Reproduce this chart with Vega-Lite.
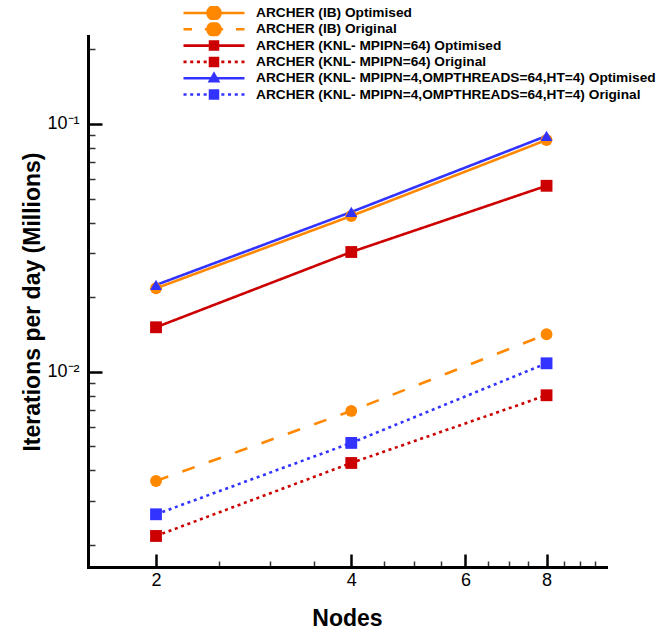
{
  "$schema": "https://vega.github.io/schema/vega-lite/v6.json",
  "width": 518,
  "height": 531,
  "autosize": "none",
  "padding": {"left": 88, "top": 36, "right": 66, "bottom": 66},
  "background": "white",
  "config": {"view": {"stroke": null}, "font": "Liberation Sans"},
  "data": {
    "values": [
      {"series": "ARCHER (IB) Optimised", "nodes": 2, "value": 0.02171},
      {"series": "ARCHER (IB) Optimised", "nodes": 4, "value": 0.04252},
      {"series": "ARCHER (IB) Optimised", "nodes": 8, "value": 0.0862},
      {"series": "ARCHER (IB) Original", "nodes": 2, "value": 0.00362},
      {"series": "ARCHER (IB) Original", "nodes": 4, "value": 0.006941},
      {"series": "ARCHER (IB) Original", "nodes": 8, "value": 0.01416},
      {"series": "ARCHER (KNL- MPIPN=64) Optimised", "nodes": 2, "value": 0.01511},
      {"series": "ARCHER (KNL- MPIPN=64) Optimised", "nodes": 4, "value": 0.03042},
      {"series": "ARCHER (KNL- MPIPN=64) Optimised", "nodes": 8, "value": 0.0563},
      {"series": "ARCHER (KNL- MPIPN=64) Original", "nodes": 2, "value": 0.002171},
      {"series": "ARCHER (KNL- MPIPN=64) Original", "nodes": 4, "value": 0.004279},
      {"series": "ARCHER (KNL- MPIPN=64) Original", "nodes": 8, "value": 0.008031},
      {"series": "ARCHER (KNL- MPIPN=4,OMPTHREADS=64,HT=4) Optimised", "nodes": 2, "value": 0.02239},
      {"series": "ARCHER (KNL- MPIPN=4,OMPTHREADS=64,HT=4) Optimised", "nodes": 4, "value": 0.04413},
      {"series": "ARCHER (KNL- MPIPN=4,OMPTHREADS=64,HT=4) Optimised", "nodes": 8, "value": 0.0895},
      {"series": "ARCHER (KNL- MPIPN=4,OMPTHREADS=64,HT=4) Original", "nodes": 2, "value": 0.002656},
      {"series": "ARCHER (KNL- MPIPN=4,OMPTHREADS=64,HT=4) Original", "nodes": 4, "value": 0.005156},
      {"series": "ARCHER (KNL- MPIPN=4,OMPTHREADS=64,HT=4) Original", "nodes": 8, "value": 0.01081}
    ]
  },
  "layer": [
    {
      "mark": {"type": "line", "strokeWidth": 2.6},
      "encoding": {
        "x": {
          "field": "nodes", "type": "quantitative",
          "scale": {"type": "log", "domain": [1.571, 9.88], "nice": false},
          "axis": {
            "orient": "bottom", "values": [2, 4, 6, 8], "format": "d",
            "offset": -13, "tickSize": 13, "tickWidth": 2.5, "tickColor": "black",
            "domain": false, "grid": false,
            "labelFont": "Liberation Sans", "labelFontSize": 18, "labelColor": "black", "labelPadding": 4,
            "title": "Nodes", "titleFont": "Liberation Sans", "titleFontSize": 23, "titleFontWeight": "bold", "titleColor": "black", "titlePadding": 18
          }
        },
        "y": {
          "field": "value", "type": "quantitative",
          "scale": {"type": "log", "domain": [0.001627, 0.2266], "nice": false},
          "axis": {
            "orient": "left", "values": [0.01, 0.1],
            "labelExpr": "datum.value > 0.05 ? '10⁻¹' : '10⁻²'",
            "offset": -14, "tickSize": 14, "tickWidth": 2.5, "tickColor": "black",
            "domain": false, "grid": false,
            "labelFont": "Liberation Sans", "labelFontSize": 18, "labelColor": "black", "labelPadding": 9,
            "title": "Iterations per day (Millions)", "titleFont": "Liberation Sans", "titleFontSize": 23, "titleFontWeight": "bold", "titleColor": "black", "titlePadding": 2
          }
        },
        "color": {
          "field": "series", "type": "nominal",
          "scale": {
            "domain": ["ARCHER (IB) Optimised", "ARCHER (IB) Original", "ARCHER (KNL- MPIPN=64) Optimised", "ARCHER (KNL- MPIPN=64) Original", "ARCHER (KNL- MPIPN=4,OMPTHREADS=64,HT=4) Optimised", "ARCHER (KNL- MPIPN=4,OMPTHREADS=64,HT=4) Original"],
            "range": ["#ff8800", "#ff8800", "#cc0000", "#cc0000", "#3333ff", "#3333ff"]
          },
          "legend": {
            "orient": "none", "legendX": 94, "legendY": -30, "title": null,
            "padding": 0, "symbolSize": 3721, "symbolStrokeWidth": 2.6,
            "labelFont": "Liberation Sans", "labelFontSize": 13.7, "labelFontWeight": "bold", "labelColor": "black",
            "labelOffset": 10, "labelLimit": 600, "clipHeight": 14, "rowPadding": 2.3,
            "encode": {
              "symbols": {
                "update": {
                  "shape": {"signal": "(datum.value == 'ARCHER (IB) Original' ? 'M-1,0H-0.72M-0.3,0H0.3M0.72,0H1' : indexof(datum.value, 'Original') >= 0 ? 'M-1,0H-0.9M-0.78,0H-0.68M-0.56,0H-0.46M-0.34,0H-0.24M0.24,0H0.34M0.46,0H0.56M0.68,0H0.78M0.9,0H1' : 'M-1,0H1') + (indexof(datum.value, '(IB)') >= 0 ? 'M0.213,0A0.213,0.213,0,1,1,-0.213,0A0.213,0.213,0,1,1,0.213,0Z' : indexof(datum.value, 'HT=4) Optimised') >= 0 ? 'M0,-0.14L0.135,0.095L-0.135,0.095Z' : 'M-0.13,-0.13H0.13V0.13H-0.13Z')"},
                  "strokeDash": {"value": [1, 0]},
                  "size": {"value": 3721},
                  "fill": {"scale": "color", "field": "value"},
                  "stroke": {"scale": "color", "field": "value"},
                  "strokeWidth": {"value": 2.6},
                  "opacity": {"value": 1},
                  "fillOpacity": {"value": 1},
                  "strokeOpacity": {"value": 1}
                }
              }
            }
          }
        },
        "strokeDash": {
          "field": "series", "type": "nominal",
          "scale": {
            "domain": ["ARCHER (IB) Optimised", "ARCHER (IB) Original", "ARCHER (KNL- MPIPN=4,OMPTHREADS=64,HT=4) Optimised", "ARCHER (KNL- MPIPN=4,OMPTHREADS=64,HT=4) Original", "ARCHER (KNL- MPIPN=64) Optimised", "ARCHER (KNL- MPIPN=64) Original"],
            "range": [[1, 0], [13, 15], [1, 0], [3, 3.7], [1, 0], [3, 3.7]]
          },
          "legend": null
        }
      }
    },
    {
      "mark": {"type": "point", "filled": true, "opacity": 1},
      "encoding": {
        "x": {
          "field": "nodes", "type": "quantitative",
          "axis": {
            "orient": "bottom", "values": [2.5, 3, 3.5, 4.5, 5, 5.5, 6.5, 7, 7.5, 8.5, 9, 9.5],
            "offset": -6, "tickSize": 6, "tickWidth": 1.5, "tickColor": "#333333",
            "domain": false, "grid": false, "labels": false, "title": null
          }
        },
        "y": {
          "field": "value", "type": "quantitative",
          "axis": {
            "orient": "left", "values": [0.002, 0.003, 0.004, 0.005, 0.006, 0.007, 0.008, 0.009, 0.02, 0.03, 0.04, 0.05, 0.06, 0.07, 0.08, 0.09, 0.2],
            "offset": -7, "tickSize": 7, "tickWidth": 1.5, "tickColor": "#333333",
            "domain": false, "grid": false, "labels": false, "title": null
          }
        },
        "color": {"field": "series", "type": "nominal"},
        "shape": {
          "field": "series", "type": "nominal",
          "scale": {
            "domain": ["ARCHER (IB) Optimised", "ARCHER (IB) Original", "ARCHER (KNL- MPIPN=4,OMPTHREADS=64,HT=4) Optimised", "ARCHER (KNL- MPIPN=4,OMPTHREADS=64,HT=4) Original", "ARCHER (KNL- MPIPN=64) Optimised", "ARCHER (KNL- MPIPN=64) Original"],
            "range": ["circle", "circle", "triangle-up", "square", "square", "square"]
          },
          "legend": null
        },
        "size": {
          "field": "series", "type": "nominal",
          "scale": {
            "domain": ["ARCHER (IB) Optimised", "ARCHER (IB) Original", "ARCHER (KNL- MPIPN=4,OMPTHREADS=64,HT=4) Optimised", "ARCHER (KNL- MPIPN=4,OMPTHREADS=64,HT=4) Original", "ARCHER (KNL- MPIPN=64) Optimised", "ARCHER (KNL- MPIPN=64) Original"],
            "range": [140, 140, 110, 81, 81, 81]
          },
          "legend": null
        }
      }
    },
    {
      "mark": {"type": "point", "opacity": 0},
      "encoding": {
        "x": {
          "field": "nodes", "type": "quantitative",
          "axis": {"orient": "bottom", "domain": true, "domainWidth": 3, "domainColor": "black", "domainCap": "square", "ticks": false, "labels": false, "grid": false, "title": null}
        },
        "y": {
          "field": "value", "type": "quantitative",
          "axis": {"orient": "left", "domain": true, "domainWidth": 3, "domainColor": "black", "domainCap": "square", "ticks": false, "labels": false, "grid": false, "title": null}
        }
      }
    }
  ],
  "resolve": {"axis": {"x": "independent", "y": "independent"}}
}
